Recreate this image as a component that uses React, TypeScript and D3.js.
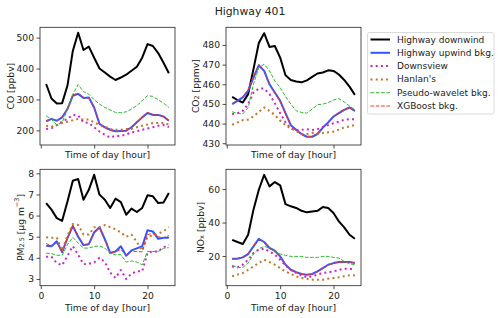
import { useEffect, useRef } from "react";
import * as d3 from "d3";

const hours = [1, 2, 3, 4, 5, 6, 7, 8, 9, 10, 11, 12, 13, 14, 15, 16, 17, 18, 19, 20, 21, 22, 23, 24];

const seriesNames = [
  "Highway downwind",
  "Highway upwind bkg.",
  "Downsview",
  "Hanlan's",
  "Pseudo-wavelet bkg.",
  "XGBoost bkg.",
];

// CO [ppbv]
const coDown = [350, 303, 287, 288, 345, 457, 516, 460, 471, 435, 400, 387, 374, 363, 371, 380, 393, 406, 435, 479, 473, 450, 419, 385];
const coUp = [229, 237, 231, 242, 269, 312, 318, 305, 306, 274, 221, 210, 202, 197, 198, 199, 210, 226, 242, 256, 250, 250, 245, 231];
const coDownsview = [204, 207, 217, 228, 237, 250, 248, 226, 224, 210, 196, 186, 177, 182, 182, 187, 193, 197, 202, 206, 210, 215, 217, 211];
const coHanlan = [215, 212, 217, 224, 228, 233, 237, 235, 235, 226, 217, 212, 204, 202, 202, 204, 204, 210, 215, 219, 224, 224, 224, 219];
const coWavelet = [247, 235, 218, 225, 269, 317, 348, 325, 317, 299, 285, 274, 266, 258, 257, 260, 269, 280, 296, 312, 310, 299, 288, 274];
const coXgb = [232, 236, 233, 240, 272, 315, 320, 306, 304, 272, 219, 208, 200, 196, 197, 200, 212, 228, 243, 258, 252, 249, 244, 233];

// CO2 [ppmv]
const co2Down = [453.6, 452, 450.7, 455, 467.7, 481, 486, 479, 479.5, 473.6, 464.6, 462.2, 461.4, 461, 462, 463.8, 465.5, 466, 467.1, 466.8, 465, 462.2, 458.8, 454.6];
const co2Up = [449.9, 451.6, 453.3, 456.6, 463.4, 469.7, 466.8, 460, 455.8, 451.6, 445.3, 439.2, 436.9, 434.7, 433.3, 433.3, 434.7, 438, 440.6, 443.6, 445.3, 447, 448.2, 446.5];
const co2Downsview = [444.8, 445.3, 446.5, 449.9, 455.8, 457.8, 457.8, 455, 450.4, 445.3, 440.6, 437.5, 436.6, 436.8, 437.1, 436.8, 437.1, 438.3, 439.2, 440.2, 441, 441.9, 442.2, 442.2];
const co2Hanlan = [439.4, 440.6, 441.8, 442, 443.6, 446, 448.2, 446.5, 444.3, 441.5, 439.2, 437.5, 436.3, 434.7, 434.7, 435.2, 434.7, 435.2, 435.6, 435.9, 436.9, 438, 438.6, 439.2];
const co2Wavelet = [446, 445.2, 444.9, 448.2, 460, 468.5, 470.2, 466.8, 461.7, 458.3, 453.8, 449.9, 446.5, 445.7, 445.3, 447.4, 449.6, 449.9, 450.7, 452, 452.7, 451, 449, 447];
const co2Xgb = [450.2, 451.8, 453.6, 457.2, 464, 469.9, 466.5, 459.6, 455.4, 451.2, 444.8, 438.8, 436.5, 434.5, 433.4, 433.5, 434.9, 438.3, 440.9, 443.9, 445.6, 447.2, 448, 446.3];

// PM2.5 [ug m-3]
const pmDown = [6.59, 6.28, 5.88, 5.75, 6.67, 7.65, 7.73, 6.75, 7.22, 7.93, 6.99, 6.75, 6.36, 6.8, 6.64, 6.04, 6.33, 6.17, 6.36, 6.96, 6.91, 6.59, 6.62, 7.07];
const pmUp = [4.57, 4.55, 4.78, 4.27, 4.93, 5.5, 5.0, 4.6, 4.65, 5.2, 5.45, 4.88, 4.23, 4.3, 4.55, 4.1, 4.35, 4.45, 4.55, 5.3, 5.25, 4.9, 4.95, 4.95];
const pmDownsview = [4.05, 4.05, 3.75, 3.65, 4.1, 4.55, 4.15, 3.7, 3.72, 3.78, 4.0, 3.8, 3.3, 3.05, 3.42, 3.0, 3.25, 3.36, 3.36, 4.25, 4.3, 4.3, 4.5, 4.6];
const pmHanlan = [4.97, 4.95, 4.95, 4.35, 5.05, 5.6, 5.55, 5.1, 5.1, 5.45, 5.45, 5.55, 5.45, 5.35, 5.2, 5.0, 5.1, 4.75, 4.35, 5.0, 5.05, 5.15, 5.25, 5.45];
const pmWavelet = [4.22, 4.2, 4.12, 4.12, 4.62, 4.97, 4.7, 4.46, 4.46, 4.54, 4.56, 4.46, 4.2, 4.15, 4.15, 3.8, 3.85, 3.8, 3.67, 4.3, 4.3, 4.3, 4.45, 4.48];
const pmXgb = [4.68, 4.55, 4.7, 4.3, 4.95, 5.55, 5.05, 4.62, 4.6, 5.25, 5.4, 4.85, 4.25, 4.28, 4.4, 4.12, 4.3, 4.3, 4.28, 5.1, 5.15, 5.0, 4.95, 5.05];

// NOx [ppbv]
const noxDown = [29.7, 28.4, 27.2, 32.7, 47.7, 59.6, 68.5, 61.6, 64.2, 62.2, 51, 49.7, 48.7, 47, 46.1, 46.6, 47, 49.3, 48.7, 45.7, 40.7, 37.1, 32.7, 30.3];
const noxUp = [18.4, 18.4, 19.2, 21.2, 25.8, 30.3, 28.4, 24.8, 23.2, 19.8, 14.8, 11.8, 10.4, 9.3, 8.9, 9.3, 10.8, 12.8, 14.8, 15.8, 16.4, 16.4, 16.4, 15.8];
const noxDownsview = [13.8, 13.2, 14.8, 17.8, 21.8, 23.8, 24.4, 22.8, 20.8, 17.8, 14.4, 11.8, 9.9, 8.5, 7.3, 7.9, 8.9, 9.9, 10.4, 10.8, 11.8, 12.4, 12.4, 11.8];
const noxHanlan = [7.9, 8.9, 9.9, 11.8, 13.8, 15.8, 17.8, 16.4, 14.8, 12.8, 10.8, 9.3, 7.9, 6.9, 6.5, 5.9, 5.9, 5.9, 6.5, 6.9, 7.3, 7.9, 8.5, 8.5];
const noxWavelet = [14.4, 13.2, 13.2, 15.8, 21.2, 24.4, 25.8, 24.8, 22.4, 21.2, 20.4, 19.8, 19.8, 19.8, 19.2, 19.2, 19.2, 19.8, 19.8, 19.2, 18.8, 16.8, 15.4, 14.8];
const noxXgb = [18.0, 18.6, 19.5, 21.6, 26.2, 30.0, 28.2, 24.6, 22.9, 19.5, 14.6, 11.6, 10.2, 9.1, 8.8, 9.2, 10.6, 12.6, 14.6, 15.6, 16.2, 16.3, 16.5, 16.0];

const xTicks = [0, 10, 20];
const coTicks = [200, 300, 400, 500];
const co2Ticks = [430, 440, 450, 460, 470, 480];
const pmTicks = [3, 4, 5, 6, 7, 8];
const noxTicks = [20, 40, 60];

const styles = [
  { color: "#000000", width: 2, dash: null },
  { color: "#3355ff", width: 2, dash: null },
  { color: "#cc22cc", width: 2, dash: "2,3.2" },
  { color: "#c0782a", width: 2, dash: "2,3.2" },
  { color: "#2db82d", width: 1, dash: "3.7,1.6" },
  { color: "#f03535", width: 1, dash: "3.7,1.6" },
];

const FONT = "DejaVu Sans, sans-serif";

const drawPanel = (svg: any, p: any) => {
  const x = d3.scaleLinear().domain([-0.15, 25.15]).range([p.left, p.right]);
  const y = d3.scaleLinear().domain(p.domain).range([p.bottom, p.top]);

  const line = d3.line<number>()
    .x((_, i) => x(hours[i]))
    .y((d) => y(d));

  const g = svg.append("g");

  p.series.forEach((s: number[], i: number) => {
    const st = styles[i];
    g.append("path")
      .datum(s)
      .attr("d", line)
      .attr("fill", "none")
      .attr("stroke", st.color)
      .attr("stroke-width", st.width)
      .attr("stroke-linejoin", "round")
      .attr("stroke-dasharray", st.dash);
  });

  // x axis
  g.append("g")
    .attr("transform", `translate(0, ${p.bottom})`)
    .call(d3.axisBottom(x).tickValues(xTicks).tickSize(3.5).tickPadding(3)
      .tickFormat((d: any) => (p.showX ? String(d) : "")))
    .call((a: any) => a.select(".domain").remove())
    .call((a: any) => a.selectAll("text").attr("font-size", 9.2).attr("font-family", FONT).attr("fill", "#222"));

  // y axis
  g.append("g")
    .attr("transform", `translate(${p.left}, 0)`)
    .call(d3.axisLeft(y).tickValues(p.ticks).tickSize(3.5).tickPadding(2.5)
      .tickFormat((d: any) => String(d)))
    .call((a: any) => a.select(".domain").remove())
    .call((a: any) => a.selectAll("text").attr("font-size", 9.2).attr("font-family", FONT).attr("fill", "#222"));

  g.selectAll(".tick line").attr("stroke", "#222").attr("stroke-width", 0.8);

  // frame
  g.append("rect")
    .attr("x", p.left)
    .attr("y", p.top)
    .attr("width", p.right - p.left)
    .attr("height", p.bottom - p.top)
    .attr("fill", "none")
    .attr("stroke", "#222")
    .attr("stroke-width", 0.8);

  // x label
  g.append("text")
    .attr("x", (p.left + p.right) / 2)
    .attr("y", p.showX ? p.bottom + 22 : p.bottom + 9)
    .attr("text-anchor", "middle")
    .attr("dominant-baseline", "central")
    .attr("font-size", 9.2)
    .attr("font-family", FONT)
    .attr("fill", "#222")
    .text("Time of day [hour]");

  // y label
  const yl = g.append("text")
    .attr("transform", `translate(${p.ylabelX}, ${(p.top + p.bottom) / 2}) rotate(-90)`)
    .attr("text-anchor", "middle")
    .attr("dominant-baseline", "central")
    .attr("font-size", 9.2)
    .attr("font-family", FONT)
    .attr("fill", "#222");
  p.ylabel.forEach((part: any) => {
    const t = yl.append("tspan").text(part.t);
    if (part.sub) t.attr("font-size", 6.5).attr("baseline-shift", "-25%");
    if (part.sup) t.attr("font-size", 6.5).attr("baseline-shift", "40%");
  });
};

export default function App() {
  const svgRef = useRef<SVGSVGElement>(null);

  useEffect(() => {
    document.body.style.margin = "0";
    const svg = d3.select(svgRef.current);
    svg.selectAll("*").remove();

    svg.append("rect").attr("width", 500).attr("height", 318).attr("fill", "#fff");

    svg.append("text")
      .attr("x", 250)
      .attr("y", 11)
      .attr("text-anchor", "middle")
      .attr("dominant-baseline", "central")
      .attr("font-size", 10.8)
      .attr("font-family", FONT)
      .attr("fill", "#222")
      .text("Highway 401");

    const panels = [
      {
        left: 40, right: 175, top: 27.3, bottom: 145, domain: [152.6, 533.5], ticks: coTicks, showX: false,
        series: [coDown, coUp, coDownsview, coHanlan, coWavelet, coXgb], ylabelX: 10,
        ylabel: [{ t: "CO [ppbv]" }],
      },
      {
        left: 226, right: 361, top: 27.3, bottom: 145, domain: [429.1, 489], ticks: co2Ticks, showX: false,
        series: [co2Down, co2Up, co2Downsview, co2Hanlan, co2Wavelet, co2Xgb], ylabelX: 195,
        ylabel: [{ t: "CO" }, { t: "2", sub: true }, { t: " [ppmv]" }],
      },
      {
        left: 40, right: 175, top: 169.3, bottom: 285.7, domain: [2.68, 8.19], ticks: pmTicks, showX: true,
        series: [pmDown, pmUp, pmDownsview, pmHanlan, pmWavelet, pmXgb], ylabelX: 20,
        ylabel: [{ t: "PM" }, { t: "2.5", sub: true }, { t: " [µg m" }, { t: "−3", sup: true }, { t: "]" }],
      },
      {
        left: 226, right: 361, top: 169.3, bottom: 285.7, domain: [2.3, 71.8], ticks: noxTicks, showX: true,
        series: [noxDown, noxUp, noxDownsview, noxHanlan, noxWavelet, noxXgb], ylabelX: 200,
        ylabel: [{ t: "NO" }, { t: "x", sub: true }, { t: " [ppbv]" }],
      },
    ];
    panels.forEach((p) => drawPanel(svg, p));

    // legend
    const lg = svg.append("g");
    lg.append("rect")
      .attr("x", 367.5)
      .attr("y", 32.5)
      .attr("width", 126.5)
      .attr("height", 81.5)
      .attr("rx", 2)
      .attr("fill", "#fff")
      .attr("stroke", "#d0d0d0")
      .attr("stroke-width", 0.8);
    seriesNames.forEach((name, i) => {
      const st = styles[i];
      const yy = 39.5 + i * 13.3;
      lg.append("line")
        .attr("x1", 370.5)
        .attr("x2", 390)
        .attr("y1", yy)
        .attr("y2", yy)
        .attr("stroke", st.color)
        .attr("stroke-width", st.width)
        .attr("stroke-dasharray", st.dash);
      lg.append("text")
        .attr("x", 397)
        .attr("y", yy)
        .attr("dominant-baseline", "central")
        .attr("font-size", 9)
        .attr("font-family", FONT)
        .attr("fill", "#222")
        .text(name);
    });
  }, []);

  return <svg ref={svgRef} width={500} height={318} style={{ display: "block" }} />;
}
